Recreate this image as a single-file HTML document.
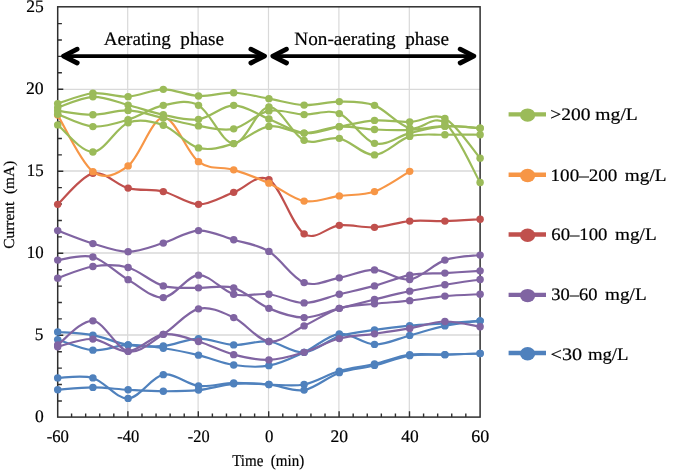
<!DOCTYPE html>
<html><head><meta charset="utf-8"><style>html,body{margin:0;padding:0;background:#fff;}body{width:675px;height:472px;overflow:hidden;}svg{display:block;will-change:transform;}text{font-family:"Liberation Serif",serif;text-rendering:geometricPrecision;fill:#000;stroke:#000;stroke-width:0.2px;}</style></head><body>
<svg width="675" height="472" viewBox="0 0 675 472">
<rect width="675" height="472" fill="#fff"/>
<path d="M127.70,6.8 V417.1 M198.10,6.8 V417.1 M268.50,6.8 V417.1 M338.90,6.8 V417.1 M409.30,6.8 V417.1" stroke="#D9D9D9" stroke-width="1.2" fill="none"/>
<path d="M57.7,335.02 H480.1 M57.7,252.99 H480.1 M57.7,170.96 H480.1 M57.7,89.38 H480.1" stroke="#D9D9D9" stroke-width="1.4" fill="none"/>
<path d="M57.7,400.94 h4.2 M57.7,384.54 h4.2 M57.7,368.13 h4.2 M57.7,351.73 h4.2 M57.7,335.32 h5.6 M57.7,318.91 h4.2 M57.7,302.51 h4.2 M57.7,286.10 h4.2 M57.7,269.70 h4.2 M57.7,253.29 h5.6 M57.7,236.88 h4.2 M57.7,220.48 h4.2 M57.7,204.07 h4.2 M57.7,187.67 h4.2 M57.7,171.26 h5.6 M57.7,154.85 h4.2 M57.7,138.45 h4.2 M57.7,122.04 h4.2 M57.7,105.64 h4.2 M57.7,89.23 h5.6 M57.7,72.82 h4.2 M57.7,56.42 h4.2 M57.7,40.01 h4.2 M57.7,23.61 h4.2 M71.58,417.1 v-3.5 M85.66,417.1 v-3.5 M99.74,417.1 v-3.5 M113.82,417.1 v-3.5 M127.90,417.1 v-5.8 M141.98,417.1 v-3.5 M156.06,417.1 v-3.5 M170.14,417.1 v-3.5 M184.22,417.1 v-3.5 M198.30,417.1 v-5.8 M212.38,417.1 v-3.5 M226.46,417.1 v-3.5 M240.54,417.1 v-3.5 M254.62,417.1 v-3.5 M268.70,417.1 v-5.8 M282.78,417.1 v-3.5 M296.86,417.1 v-3.5 M310.94,417.1 v-3.5 M325.02,417.1 v-3.5 M339.10,417.1 v-5.8 M353.18,417.1 v-3.5 M367.26,417.1 v-3.5 M381.34,417.1 v-3.5 M395.42,417.1 v-3.5 M409.50,417.1 v-5.8 M423.58,417.1 v-3.5 M437.66,417.1 v-3.5 M451.74,417.1 v-3.5 M465.82,417.1 v-3.5" stroke="#2E2E2E" stroke-width="1.4" fill="none"/>
<rect x="57.70" y="6.80" width="422.40" height="410.30" fill="none" stroke="#2E2E2E" stroke-width="1.5"/>
<path d="M57.70,332.00 C63.57,332.52 81.17,332.95 92.90,335.11 C104.63,337.27 116.37,343.16 128.10,344.96 C139.83,346.77 151.57,347.01 163.30,345.94 C175.03,344.88 186.77,338.72 198.50,338.56 C210.23,338.40 221.97,344.47 233.70,344.96 C245.43,345.45 257.17,340.28 268.90,341.51 C280.63,342.74 292.37,353.22 304.10,352.34 C315.83,351.47 327.57,340.01 339.30,336.26 C351.03,332.52 362.77,331.64 374.50,329.86 C386.23,328.09 397.97,326.69 409.70,325.60 C421.43,324.50 433.17,324.09 444.90,323.30 C456.63,322.51 474.23,321.25 480.10,320.84" stroke="#4F81BD" stroke-width="2.20" fill="none" stroke-linejoin="round" stroke-linecap="round"/>
<g fill="#4F81BD"><ellipse cx="57.70" cy="332.00" rx="3.75" ry="3.65"/><ellipse cx="92.90" cy="335.11" rx="3.75" ry="3.65"/><ellipse cx="128.10" cy="344.96" rx="3.75" ry="3.65"/><ellipse cx="163.30" cy="345.94" rx="3.75" ry="3.65"/><ellipse cx="198.50" cy="338.56" rx="3.75" ry="3.65"/><ellipse cx="233.70" cy="344.96" rx="3.75" ry="3.65"/><ellipse cx="268.90" cy="341.51" rx="3.75" ry="3.65"/><ellipse cx="304.10" cy="352.34" rx="3.75" ry="3.65"/><ellipse cx="339.30" cy="336.26" rx="3.75" ry="3.65"/><ellipse cx="374.50" cy="329.86" rx="3.75" ry="3.65"/><ellipse cx="409.70" cy="325.60" rx="3.75" ry="3.65"/><ellipse cx="444.90" cy="323.30" rx="3.75" ry="3.65"/><ellipse cx="480.10" cy="320.84" rx="3.75" ry="3.65"/></g>
<path d="M57.70,339.54 C63.57,341.32 81.17,349.31 92.90,350.21 C104.63,351.11 116.37,345.29 128.10,344.96 C139.83,344.63 151.57,346.55 163.30,348.24 C175.03,349.94 186.77,352.34 198.50,355.13 C210.23,357.92 221.97,363.23 233.70,364.98 C245.43,366.73 257.17,367.74 268.90,365.64 C280.63,363.53 292.37,357.65 304.10,352.34 C315.83,347.04 327.57,335.11 339.30,333.80 C351.03,332.49 362.77,344.19 374.50,344.47 C386.23,344.74 397.97,338.53 409.70,335.44 C421.43,332.35 433.17,328.36 444.90,325.92 C456.63,323.49 474.23,321.69 480.10,320.84" stroke="#4F81BD" stroke-width="2.20" fill="none" stroke-linejoin="round" stroke-linecap="round"/>
<g fill="#4F81BD"><ellipse cx="57.70" cy="339.54" rx="3.75" ry="3.65"/><ellipse cx="92.90" cy="350.21" rx="3.75" ry="3.65"/><ellipse cx="128.10" cy="344.96" rx="3.75" ry="3.65"/><ellipse cx="163.30" cy="348.24" rx="3.75" ry="3.65"/><ellipse cx="198.50" cy="355.13" rx="3.75" ry="3.65"/><ellipse cx="233.70" cy="364.98" rx="3.75" ry="3.65"/><ellipse cx="268.90" cy="365.64" rx="3.75" ry="3.65"/><ellipse cx="304.10" cy="352.34" rx="3.75" ry="3.65"/><ellipse cx="339.30" cy="333.80" rx="3.75" ry="3.65"/><ellipse cx="374.50" cy="344.47" rx="3.75" ry="3.65"/><ellipse cx="409.70" cy="335.44" rx="3.75" ry="3.65"/><ellipse cx="444.90" cy="325.92" rx="3.75" ry="3.65"/><ellipse cx="480.10" cy="320.84" rx="3.75" ry="3.65"/></g>
<path d="M57.70,377.94 C63.57,377.94 81.17,374.53 92.90,377.94 C104.63,381.36 116.37,399.00 128.10,398.46 C139.83,397.91 151.57,376.77 163.30,374.66 C175.03,372.56 186.77,384.45 198.50,385.82 C210.23,387.19 221.97,383.09 233.70,382.87 C245.43,382.65 257.17,384.23 268.90,384.51 C280.63,384.78 292.37,386.75 304.10,384.51 C315.83,382.27 327.57,374.47 339.30,371.05 C351.03,367.63 362.77,366.73 374.50,364.00 C386.23,361.26 397.97,356.20 409.70,354.64 C421.43,353.08 433.17,354.83 444.90,354.64 C456.63,354.45 474.23,353.68 480.10,353.49" stroke="#4F81BD" stroke-width="2.20" fill="none" stroke-linejoin="round" stroke-linecap="round"/>
<g fill="#4F81BD"><ellipse cx="57.70" cy="377.94" rx="3.75" ry="3.65"/><ellipse cx="92.90" cy="377.94" rx="3.75" ry="3.65"/><ellipse cx="128.10" cy="398.46" rx="3.75" ry="3.65"/><ellipse cx="163.30" cy="374.66" rx="3.75" ry="3.65"/><ellipse cx="198.50" cy="385.82" rx="3.75" ry="3.65"/><ellipse cx="233.70" cy="382.87" rx="3.75" ry="3.65"/><ellipse cx="268.90" cy="384.51" rx="3.75" ry="3.65"/><ellipse cx="304.10" cy="384.51" rx="3.75" ry="3.65"/><ellipse cx="339.30" cy="371.05" rx="3.75" ry="3.65"/><ellipse cx="374.50" cy="364.00" rx="3.75" ry="3.65"/><ellipse cx="409.70" cy="354.64" rx="3.75" ry="3.65"/><ellipse cx="444.90" cy="354.64" rx="3.75" ry="3.65"/><ellipse cx="480.10" cy="353.49" rx="3.75" ry="3.65"/></g>
<path d="M57.70,389.76 C63.57,389.38 81.17,387.46 92.90,387.46 C104.63,387.46 116.37,389.13 128.10,389.76 C139.83,390.39 151.57,391.18 163.30,391.24 C175.03,391.29 186.77,391.32 198.50,390.09 C210.23,388.86 221.97,384.78 233.70,383.85 C245.43,382.92 257.17,383.47 268.90,384.51 C280.63,385.55 292.37,392.06 304.10,390.09 C315.83,388.12 327.57,376.80 339.30,372.69 C351.03,368.59 362.77,368.32 374.50,365.47 C386.23,362.63 397.97,357.43 409.70,355.63 C421.43,353.82 433.17,355.00 444.90,354.64 C456.63,354.29 474.23,353.68 480.10,353.49" stroke="#4F81BD" stroke-width="2.20" fill="none" stroke-linejoin="round" stroke-linecap="round"/>
<g fill="#4F81BD"><ellipse cx="57.70" cy="389.76" rx="3.75" ry="3.65"/><ellipse cx="92.90" cy="387.46" rx="3.75" ry="3.65"/><ellipse cx="128.10" cy="389.76" rx="3.75" ry="3.65"/><ellipse cx="163.30" cy="391.24" rx="3.75" ry="3.65"/><ellipse cx="198.50" cy="390.09" rx="3.75" ry="3.65"/><ellipse cx="233.70" cy="383.85" rx="3.75" ry="3.65"/><ellipse cx="268.90" cy="384.51" rx="3.75" ry="3.65"/><ellipse cx="304.10" cy="390.09" rx="3.75" ry="3.65"/><ellipse cx="339.30" cy="372.69" rx="3.75" ry="3.65"/><ellipse cx="374.50" cy="365.47" rx="3.75" ry="3.65"/><ellipse cx="409.70" cy="355.63" rx="3.75" ry="3.65"/><ellipse cx="444.90" cy="354.64" rx="3.75" ry="3.65"/><ellipse cx="480.10" cy="353.49" rx="3.75" ry="3.65"/></g>
<path d="M57.70,230.58 C63.57,232.74 81.17,240.02 92.90,243.55 C104.63,247.07 116.37,251.83 128.10,251.75 C139.83,251.67 151.57,246.58 163.30,243.05 C175.03,239.53 186.77,231.13 198.50,230.58 C210.23,230.04 221.97,236.30 233.70,239.77 C245.43,243.25 257.17,244.28 268.90,251.42 C280.63,258.56 292.37,278.20 304.10,282.60 C315.83,287.01 327.57,279.95 339.30,277.84 C351.03,275.74 362.77,269.69 374.50,269.97 C386.23,270.24 397.97,281.13 409.70,279.48 C421.43,277.84 433.17,264.20 444.90,260.12 C456.63,256.05 474.23,255.88 480.10,255.03" stroke="#8064A2" stroke-width="2.20" fill="none" stroke-linejoin="round" stroke-linecap="round"/>
<g fill="#8064A2"><ellipse cx="57.70" cy="230.58" rx="3.75" ry="3.65"/><ellipse cx="92.90" cy="243.55" rx="3.75" ry="3.65"/><ellipse cx="128.10" cy="251.75" rx="3.75" ry="3.65"/><ellipse cx="163.30" cy="243.05" rx="3.75" ry="3.65"/><ellipse cx="198.50" cy="230.58" rx="3.75" ry="3.65"/><ellipse cx="233.70" cy="239.77" rx="3.75" ry="3.65"/><ellipse cx="268.90" cy="251.42" rx="3.75" ry="3.65"/><ellipse cx="304.10" cy="282.60" rx="3.75" ry="3.65"/><ellipse cx="339.30" cy="277.84" rx="3.75" ry="3.65"/><ellipse cx="374.50" cy="269.97" rx="3.75" ry="3.65"/><ellipse cx="409.70" cy="279.48" rx="3.75" ry="3.65"/><ellipse cx="444.90" cy="260.12" rx="3.75" ry="3.65"/><ellipse cx="480.10" cy="255.03" rx="3.75" ry="3.65"/></g>
<path d="M57.70,260.12 C63.57,259.60 81.17,253.75 92.90,257.00 C104.63,260.26 116.37,272.89 128.10,279.65 C139.83,286.40 151.57,298.27 163.30,297.54 C175.03,296.80 186.77,275.76 198.50,275.22 C210.23,274.67 221.97,291.08 233.70,294.25 C245.43,297.43 257.17,292.80 268.90,294.25 C280.63,295.70 292.37,302.95 304.10,302.95 C315.83,302.95 327.57,297.10 339.30,294.25 C351.03,291.41 362.77,289.08 374.50,285.88 C386.23,282.68 397.97,277.19 409.70,275.05 C421.43,272.92 433.17,273.80 444.90,273.08 C456.63,272.37 474.23,271.17 480.10,270.79" stroke="#8064A2" stroke-width="2.20" fill="none" stroke-linejoin="round" stroke-linecap="round"/>
<g fill="#8064A2"><ellipse cx="57.70" cy="260.12" rx="3.75" ry="3.65"/><ellipse cx="92.90" cy="257.00" rx="3.75" ry="3.65"/><ellipse cx="128.10" cy="279.65" rx="3.75" ry="3.65"/><ellipse cx="163.30" cy="297.54" rx="3.75" ry="3.65"/><ellipse cx="198.50" cy="275.22" rx="3.75" ry="3.65"/><ellipse cx="233.70" cy="294.25" rx="3.75" ry="3.65"/><ellipse cx="268.90" cy="294.25" rx="3.75" ry="3.65"/><ellipse cx="304.10" cy="302.95" rx="3.75" ry="3.65"/><ellipse cx="339.30" cy="294.25" rx="3.75" ry="3.65"/><ellipse cx="374.50" cy="285.88" rx="3.75" ry="3.65"/><ellipse cx="409.70" cy="275.05" rx="3.75" ry="3.65"/><ellipse cx="444.90" cy="273.08" rx="3.75" ry="3.65"/><ellipse cx="480.10" cy="270.79" rx="3.75" ry="3.65"/></g>
<path d="M57.70,278.17 C63.57,276.23 81.17,268.30 92.90,266.52 C104.63,264.74 116.37,264.28 128.10,267.50 C139.83,270.73 151.57,282.49 163.30,285.88 C175.03,289.28 186.77,287.53 198.50,287.85 C210.23,288.18 221.97,284.43 233.70,287.85 C245.43,291.27 257.17,303.42 268.90,308.37 C280.63,313.32 292.37,317.56 304.10,317.56 C315.83,317.56 327.57,311.37 339.30,308.37 C351.03,305.36 362.77,302.38 374.50,299.50 C386.23,296.63 397.97,293.60 409.70,291.14 C421.43,288.67 433.17,286.68 444.90,284.74 C456.63,282.79 474.23,280.36 480.10,279.48" stroke="#8064A2" stroke-width="2.20" fill="none" stroke-linejoin="round" stroke-linecap="round"/>
<g fill="#8064A2"><ellipse cx="57.70" cy="278.17" rx="3.75" ry="3.65"/><ellipse cx="92.90" cy="266.52" rx="3.75" ry="3.65"/><ellipse cx="128.10" cy="267.50" rx="3.75" ry="3.65"/><ellipse cx="163.30" cy="285.88" rx="3.75" ry="3.65"/><ellipse cx="198.50" cy="287.85" rx="3.75" ry="3.65"/><ellipse cx="233.70" cy="287.85" rx="3.75" ry="3.65"/><ellipse cx="268.90" cy="308.37" rx="3.75" ry="3.65"/><ellipse cx="304.10" cy="317.56" rx="3.75" ry="3.65"/><ellipse cx="339.30" cy="308.37" rx="3.75" ry="3.65"/><ellipse cx="374.50" cy="299.50" rx="3.75" ry="3.65"/><ellipse cx="409.70" cy="291.14" rx="3.75" ry="3.65"/><ellipse cx="444.90" cy="284.74" rx="3.75" ry="3.65"/><ellipse cx="480.10" cy="279.48" rx="3.75" ry="3.65"/></g>
<path d="M57.70,344.96 C63.57,340.94 81.17,319.77 92.90,320.84 C104.63,321.90 116.37,349.12 128.10,351.36 C139.83,353.60 151.57,341.38 163.30,334.29 C175.03,327.21 186.77,311.65 198.50,308.86 C210.23,306.07 221.97,312.11 233.70,317.56 C245.43,323.00 257.17,340.12 268.90,341.51 C280.63,342.91 292.37,331.45 304.10,325.92 C315.83,320.40 327.57,312.06 339.30,308.37 C351.03,304.67 362.77,305.06 374.50,303.77 C386.23,302.49 397.97,301.94 409.70,300.65 C421.43,299.37 433.17,297.12 444.90,296.06 C456.63,294.99 474.23,294.55 480.10,294.25" stroke="#8064A2" stroke-width="2.20" fill="none" stroke-linejoin="round" stroke-linecap="round"/>
<g fill="#8064A2"><ellipse cx="57.70" cy="344.96" rx="3.75" ry="3.65"/><ellipse cx="92.90" cy="320.84" rx="3.75" ry="3.65"/><ellipse cx="128.10" cy="351.36" rx="3.75" ry="3.65"/><ellipse cx="163.30" cy="334.29" rx="3.75" ry="3.65"/><ellipse cx="198.50" cy="308.86" rx="3.75" ry="3.65"/><ellipse cx="233.70" cy="317.56" rx="3.75" ry="3.65"/><ellipse cx="268.90" cy="341.51" rx="3.75" ry="3.65"/><ellipse cx="304.10" cy="325.92" rx="3.75" ry="3.65"/><ellipse cx="339.30" cy="308.37" rx="3.75" ry="3.65"/><ellipse cx="374.50" cy="303.77" rx="3.75" ry="3.65"/><ellipse cx="409.70" cy="300.65" rx="3.75" ry="3.65"/><ellipse cx="444.90" cy="296.06" rx="3.75" ry="3.65"/><ellipse cx="480.10" cy="294.25" rx="3.75" ry="3.65"/></g>
<path d="M57.70,346.77 C63.57,345.48 81.17,338.29 92.90,339.05 C104.63,339.82 116.37,352.15 128.10,351.36 C139.83,350.57 151.57,335.93 163.30,334.29 C175.03,332.65 186.77,338.12 198.50,341.51 C210.23,344.91 221.97,351.58 233.70,354.64 C245.43,357.71 257.17,360.28 268.90,359.89 C280.63,359.51 292.37,355.90 304.10,352.34 C315.83,348.79 327.57,341.65 339.30,338.56 C351.03,335.47 362.77,335.50 374.50,333.80 C386.23,332.11 397.97,330.44 409.70,328.39 C421.43,326.33 433.17,321.77 444.90,321.49 C456.63,321.22 474.23,325.87 480.10,326.75" stroke="#8064A2" stroke-width="2.20" fill="none" stroke-linejoin="round" stroke-linecap="round"/>
<g fill="#8064A2"><ellipse cx="57.70" cy="346.77" rx="3.75" ry="3.65"/><ellipse cx="92.90" cy="339.05" rx="3.75" ry="3.65"/><ellipse cx="128.10" cy="351.36" rx="3.75" ry="3.65"/><ellipse cx="163.30" cy="334.29" rx="3.75" ry="3.65"/><ellipse cx="198.50" cy="341.51" rx="3.75" ry="3.65"/><ellipse cx="233.70" cy="354.64" rx="3.75" ry="3.65"/><ellipse cx="268.90" cy="359.89" rx="3.75" ry="3.65"/><ellipse cx="304.10" cy="352.34" rx="3.75" ry="3.65"/><ellipse cx="339.30" cy="338.56" rx="3.75" ry="3.65"/><ellipse cx="374.50" cy="333.80" rx="3.75" ry="3.65"/><ellipse cx="409.70" cy="328.39" rx="3.75" ry="3.65"/><ellipse cx="444.90" cy="321.49" rx="3.75" ry="3.65"/><ellipse cx="480.10" cy="326.75" rx="3.75" ry="3.65"/></g>
<path d="M57.70,204.33 C63.57,199.16 81.17,176.02 92.90,173.31 C104.63,170.60 116.37,185.04 128.10,188.08 C139.83,191.12 151.57,188.82 163.30,191.53 C175.03,194.23 186.77,204.19 198.50,204.33 C210.23,204.46 221.97,196.48 233.70,192.35 C245.43,188.22 257.17,172.63 268.90,179.55 C280.63,186.47 292.37,226.23 304.10,233.86 C315.83,241.50 327.57,226.43 339.30,225.33 C351.03,224.24 362.77,228.01 374.50,227.30 C386.23,226.59 397.97,222.10 409.70,221.06 C421.43,220.03 433.17,221.37 444.90,221.06 C456.63,220.76 474.23,219.56 480.10,219.26" stroke="#C0504D" stroke-width="2.20" fill="none" stroke-linejoin="round" stroke-linecap="round"/>
<g fill="#C0504D"><ellipse cx="57.70" cy="204.33" rx="3.75" ry="3.65"/><ellipse cx="92.90" cy="173.31" rx="3.75" ry="3.65"/><ellipse cx="128.10" cy="188.08" rx="3.75" ry="3.65"/><ellipse cx="163.30" cy="191.53" rx="3.75" ry="3.65"/><ellipse cx="198.50" cy="204.33" rx="3.75" ry="3.65"/><ellipse cx="233.70" cy="192.35" rx="3.75" ry="3.65"/><ellipse cx="268.90" cy="179.55" rx="3.75" ry="3.65"/><ellipse cx="304.10" cy="233.86" rx="3.75" ry="3.65"/><ellipse cx="339.30" cy="225.33" rx="3.75" ry="3.65"/><ellipse cx="374.50" cy="227.30" rx="3.75" ry="3.65"/><ellipse cx="409.70" cy="221.06" rx="3.75" ry="3.65"/><ellipse cx="444.90" cy="221.06" rx="3.75" ry="3.65"/><ellipse cx="480.10" cy="219.26" rx="3.75" ry="3.65"/></g>
<path d="M57.70,115.06 C63.57,124.49 81.17,163.19 92.90,171.67 C104.63,180.15 116.37,174.95 128.10,165.93 C139.83,156.90 151.57,118.23 163.30,117.52 C175.03,116.81 186.77,152.94 198.50,161.66 C210.23,170.39 221.97,166.28 233.70,169.87 C245.43,173.45 257.17,177.96 268.90,183.16 C280.63,188.35 292.37,198.91 304.10,201.04 C315.83,203.18 327.57,197.54 339.30,195.96 C351.03,194.37 362.77,195.63 374.50,191.53 C386.23,187.42 403.83,174.71 409.70,171.34" stroke="#F79646" stroke-width="2.20" fill="none" stroke-linejoin="round" stroke-linecap="round"/>
<g fill="#F79646"><ellipse cx="57.70" cy="115.06" rx="3.75" ry="3.65"/><ellipse cx="92.90" cy="171.67" rx="3.75" ry="3.65"/><ellipse cx="128.10" cy="165.93" rx="3.75" ry="3.65"/><ellipse cx="163.30" cy="117.52" rx="3.75" ry="3.65"/><ellipse cx="198.50" cy="161.66" rx="3.75" ry="3.65"/><ellipse cx="233.70" cy="169.87" rx="3.75" ry="3.65"/><ellipse cx="268.90" cy="183.16" rx="3.75" ry="3.65"/><ellipse cx="304.10" cy="201.04" rx="3.75" ry="3.65"/><ellipse cx="339.30" cy="195.96" rx="3.75" ry="3.65"/><ellipse cx="374.50" cy="191.53" rx="3.75" ry="3.65"/><ellipse cx="409.70" cy="171.34" rx="3.75" ry="3.65"/></g>
<path d="M57.70,103.57 C63.57,101.85 81.17,94.38 92.90,93.23 C104.63,92.08 116.37,97.33 128.10,96.68 C139.83,96.02 151.57,89.40 163.30,89.29 C175.03,89.18 186.77,95.45 198.50,96.02 C210.23,96.59 221.97,92.30 233.70,92.74 C245.43,93.18 257.17,96.59 268.90,98.65 C280.63,100.70 292.37,104.55 304.10,105.05 C315.83,105.54 327.57,101.55 339.30,101.60 C351.03,101.65 362.77,100.94 374.50,105.37 C386.23,109.80 397.97,125.26 409.70,128.18 C421.43,131.11 433.17,113.88 444.90,122.93 C456.63,131.99 474.23,172.57 480.10,182.50" stroke="#9BBB59" stroke-width="2.20" fill="none" stroke-linejoin="round" stroke-linecap="round"/>
<g fill="#9BBB59"><ellipse cx="57.70" cy="103.57" rx="3.75" ry="3.65"/><ellipse cx="92.90" cy="93.23" rx="3.75" ry="3.65"/><ellipse cx="128.10" cy="96.68" rx="3.75" ry="3.65"/><ellipse cx="163.30" cy="89.29" rx="3.75" ry="3.65"/><ellipse cx="198.50" cy="96.02" rx="3.75" ry="3.65"/><ellipse cx="233.70" cy="92.74" rx="3.75" ry="3.65"/><ellipse cx="268.90" cy="98.65" rx="3.75" ry="3.65"/><ellipse cx="304.10" cy="105.05" rx="3.75" ry="3.65"/><ellipse cx="339.30" cy="101.60" rx="3.75" ry="3.65"/><ellipse cx="374.50" cy="105.37" rx="3.75" ry="3.65"/><ellipse cx="409.70" cy="128.18" rx="3.75" ry="3.65"/><ellipse cx="444.90" cy="122.93" rx="3.75" ry="3.65"/><ellipse cx="480.10" cy="182.50" rx="3.75" ry="3.65"/></g>
<path d="M57.70,107.67 C63.57,105.87 81.17,97.28 92.90,96.84 C104.63,96.40 116.37,102.06 128.10,105.05 C139.83,108.03 151.57,112.35 163.30,114.73 C175.03,117.11 186.77,120.88 198.50,119.32 C210.23,117.76 221.97,105.43 233.70,105.37 C245.43,105.32 257.17,114.37 268.90,118.99 C280.63,123.62 292.37,131.82 304.10,133.11 C315.83,134.39 327.57,128.81 339.30,126.71 C351.03,124.60 362.77,121.26 374.50,120.47 C386.23,119.68 397.97,122.28 409.70,121.95 C421.43,121.62 433.17,112.46 444.90,118.50 C456.63,124.55 474.23,151.60 480.10,158.21" stroke="#9BBB59" stroke-width="2.20" fill="none" stroke-linejoin="round" stroke-linecap="round"/>
<g fill="#9BBB59"><ellipse cx="57.70" cy="107.67" rx="3.75" ry="3.65"/><ellipse cx="92.90" cy="96.84" rx="3.75" ry="3.65"/><ellipse cx="128.10" cy="105.05" rx="3.75" ry="3.65"/><ellipse cx="163.30" cy="114.73" rx="3.75" ry="3.65"/><ellipse cx="198.50" cy="119.32" rx="3.75" ry="3.65"/><ellipse cx="233.70" cy="105.37" rx="3.75" ry="3.65"/><ellipse cx="268.90" cy="118.99" rx="3.75" ry="3.65"/><ellipse cx="304.10" cy="133.11" rx="3.75" ry="3.65"/><ellipse cx="339.30" cy="126.71" rx="3.75" ry="3.65"/><ellipse cx="374.50" cy="120.47" rx="3.75" ry="3.65"/><ellipse cx="409.70" cy="121.95" rx="3.75" ry="3.65"/><ellipse cx="444.90" cy="118.50" rx="3.75" ry="3.65"/><ellipse cx="480.10" cy="158.21" rx="3.75" ry="3.65"/></g>
<path d="M57.70,110.95 C63.57,111.58 81.17,114.81 92.90,114.73 C104.63,114.65 116.37,109.91 128.10,110.46 C139.83,111.01 151.57,115.44 163.30,118.01 C175.03,120.58 186.77,124.08 198.50,125.89 C210.23,127.69 221.97,131.33 233.70,128.84 C245.43,126.35 257.17,113.33 268.90,110.95 C280.63,108.57 292.37,114.13 304.10,114.56 C315.83,115.00 327.57,108.79 339.30,113.58 C351.03,118.37 362.77,140.03 374.50,143.28 C386.23,146.54 397.97,135.95 409.70,133.11 C421.43,130.26 433.17,127.04 444.90,126.21 C456.63,125.39 474.23,127.86 480.10,128.18" stroke="#9BBB59" stroke-width="2.20" fill="none" stroke-linejoin="round" stroke-linecap="round"/>
<g fill="#9BBB59"><ellipse cx="57.70" cy="110.95" rx="3.75" ry="3.65"/><ellipse cx="92.90" cy="114.73" rx="3.75" ry="3.65"/><ellipse cx="128.10" cy="110.46" rx="3.75" ry="3.65"/><ellipse cx="163.30" cy="118.01" rx="3.75" ry="3.65"/><ellipse cx="198.50" cy="125.89" rx="3.75" ry="3.65"/><ellipse cx="233.70" cy="128.84" rx="3.75" ry="3.65"/><ellipse cx="268.90" cy="110.95" rx="3.75" ry="3.65"/><ellipse cx="304.10" cy="114.56" rx="3.75" ry="3.65"/><ellipse cx="339.30" cy="113.58" rx="3.75" ry="3.65"/><ellipse cx="374.50" cy="143.28" rx="3.75" ry="3.65"/><ellipse cx="409.70" cy="133.11" rx="3.75" ry="3.65"/><ellipse cx="444.90" cy="126.21" rx="3.75" ry="3.65"/><ellipse cx="480.10" cy="128.18" rx="3.75" ry="3.65"/></g>
<path d="M57.70,114.24 C63.57,116.29 81.17,125.64 92.90,126.54 C104.63,127.45 116.37,123.18 128.10,119.65 C139.83,116.12 151.57,107.75 163.30,105.37 C175.03,102.99 186.77,99.00 198.50,105.37 C210.23,111.75 221.97,143.34 233.70,143.61 C245.43,143.88 257.17,107.56 268.90,107.02 C280.63,106.47 292.37,135.10 304.10,140.33 C315.83,145.55 327.57,135.92 339.30,138.36 C351.03,140.79 362.77,155.26 374.50,154.93 C386.23,154.60 397.97,139.75 409.70,136.39 C421.43,133.02 433.17,135.02 444.90,134.75 C456.63,134.47 474.23,134.75 480.10,134.75" stroke="#9BBB59" stroke-width="2.20" fill="none" stroke-linejoin="round" stroke-linecap="round"/>
<g fill="#9BBB59"><ellipse cx="57.70" cy="114.24" rx="3.75" ry="3.65"/><ellipse cx="92.90" cy="126.54" rx="3.75" ry="3.65"/><ellipse cx="128.10" cy="119.65" rx="3.75" ry="3.65"/><ellipse cx="163.30" cy="105.37" rx="3.75" ry="3.65"/><ellipse cx="198.50" cy="105.37" rx="3.75" ry="3.65"/><ellipse cx="233.70" cy="143.61" rx="3.75" ry="3.65"/><ellipse cx="268.90" cy="107.02" rx="3.75" ry="3.65"/><ellipse cx="304.10" cy="140.33" rx="3.75" ry="3.65"/><ellipse cx="339.30" cy="138.36" rx="3.75" ry="3.65"/><ellipse cx="374.50" cy="154.93" rx="3.75" ry="3.65"/><ellipse cx="409.70" cy="136.39" rx="3.75" ry="3.65"/><ellipse cx="444.90" cy="134.75" rx="3.75" ry="3.65"/><ellipse cx="480.10" cy="134.75" rx="3.75" ry="3.65"/></g>
<path d="M57.70,124.90 C63.57,129.41 81.17,152.33 92.90,151.98 C104.63,151.62 116.37,127.23 128.10,122.77 C139.83,118.31 151.57,121.05 163.30,125.23 C175.03,129.41 186.77,144.81 198.50,147.88 C210.23,150.94 221.97,147.19 233.70,143.61 C245.43,140.03 257.17,128.13 268.90,126.38 C280.63,124.63 292.37,133.05 304.10,133.11 C315.83,133.16 327.57,127.31 339.30,126.71 C351.03,126.11 362.77,128.98 374.50,129.50 C386.23,130.02 397.97,130.37 409.70,129.82 C421.43,129.28 433.17,126.49 444.90,126.21 C456.63,125.94 474.23,127.86 480.10,128.18" stroke="#9BBB59" stroke-width="2.20" fill="none" stroke-linejoin="round" stroke-linecap="round"/>
<g fill="#9BBB59"><ellipse cx="57.70" cy="124.90" rx="3.75" ry="3.65"/><ellipse cx="92.90" cy="151.98" rx="3.75" ry="3.65"/><ellipse cx="128.10" cy="122.77" rx="3.75" ry="3.65"/><ellipse cx="163.30" cy="125.23" rx="3.75" ry="3.65"/><ellipse cx="198.50" cy="147.88" rx="3.75" ry="3.65"/><ellipse cx="233.70" cy="143.61" rx="3.75" ry="3.65"/><ellipse cx="268.90" cy="126.38" rx="3.75" ry="3.65"/><ellipse cx="304.10" cy="133.11" rx="3.75" ry="3.65"/><ellipse cx="339.30" cy="126.71" rx="3.75" ry="3.65"/><ellipse cx="374.50" cy="129.50" rx="3.75" ry="3.65"/><ellipse cx="409.70" cy="129.82" rx="3.75" ry="3.65"/><ellipse cx="444.90" cy="126.21" rx="3.75" ry="3.65"/><ellipse cx="480.10" cy="128.18" rx="3.75" ry="3.65"/></g>
<text id="y0" x="35.02" y="421.85" font-size="17.6" textLength="8.76" lengthAdjust="spacingAndGlyphs" xml:space="preserve">0</text>
<text id="y5" x="34.87" y="339.82" font-size="17.6" textLength="8.66" lengthAdjust="spacingAndGlyphs" xml:space="preserve">5</text>
<text id="y10" x="26.73" y="257.79" font-size="17.6" textLength="16.83" lengthAdjust="spacingAndGlyphs" xml:space="preserve">10</text>
<text id="y15" x="26.73" y="175.76" font-size="17.6" textLength="16.88" lengthAdjust="spacingAndGlyphs" xml:space="preserve">15</text>
<text id="y20" x="25.98" y="93.73" font-size="17.6" textLength="17.71" lengthAdjust="spacingAndGlyphs" xml:space="preserve">20</text>
<text id="y25" x="26.19" y="11.70" font-size="17.6" textLength="17.52" lengthAdjust="spacingAndGlyphs" xml:space="preserve">25</text>
<text id="x-60" x="46.72" y="441.80" font-size="17.6" textLength="22.24" lengthAdjust="spacingAndGlyphs" xml:space="preserve">-60</text>
<text id="x-40" x="117.36" y="441.80" font-size="17.6" textLength="21.99" lengthAdjust="spacingAndGlyphs" xml:space="preserve">-40</text>
<text id="x-20" x="187.79" y="441.80" font-size="17.6" textLength="21.77" lengthAdjust="spacingAndGlyphs" xml:space="preserve">-20</text>
<text id="x0" x="264.91" y="441.80" font-size="17.6" textLength="8.39" lengthAdjust="spacingAndGlyphs" xml:space="preserve">0</text>
<text id="x20" x="330.59" y="441.80" font-size="17.6" textLength="17.54" lengthAdjust="spacingAndGlyphs" xml:space="preserve">20</text>
<text id="x40" x="401.31" y="441.80" font-size="17.6" textLength="17.41" lengthAdjust="spacingAndGlyphs" xml:space="preserve">40</text>
<text id="x60" x="471.15" y="441.80" font-size="17.6" textLength="18.00" lengthAdjust="spacingAndGlyphs" xml:space="preserve">60</text>
<text id="time" x="232.18" y="466.20" font-size="16.6" textLength="72.06" lengthAdjust="spacingAndGlyphs" xml:space="preserve">Time  (min)</text>
<text id="aer" x="103.77" y="45.10" font-size="18.9" textLength="120.22" lengthAdjust="spacingAndGlyphs" xml:space="preserve">Aerating  phase</text>
<text id="naer" x="294.31" y="45.20" font-size="18.9" textLength="154.70" lengthAdjust="spacingAndGlyphs" xml:space="preserve">Non-aerating  phase</text>
<text id="L1a" x="550.19" y="120.20" font-size="17.5" textLength="40.18" lengthAdjust="spacingAndGlyphs" xml:space="preserve">&gt;200</text>
<text id="L1b" x="595.38" y="120.20" font-size="17.5" textLength="42.43" lengthAdjust="spacingAndGlyphs" xml:space="preserve">mg/L</text>
<text id="L2a" x="550.57" y="180.50" font-size="17.5" textLength="66.74" lengthAdjust="spacingAndGlyphs" xml:space="preserve">100–200</text>
<text id="L2b" x="624.88" y="180.50" font-size="17.5" textLength="41.65" lengthAdjust="spacingAndGlyphs" xml:space="preserve">mg/L</text>
<text id="L3a" x="551.32" y="240.40" font-size="17.5" textLength="56.11" lengthAdjust="spacingAndGlyphs" xml:space="preserve">60–100</text>
<text id="L3b" x="615.10" y="240.40" font-size="17.5" textLength="41.55" lengthAdjust="spacingAndGlyphs" xml:space="preserve">mg/L</text>
<text id="L4a" x="551.26" y="300.30" font-size="17.5" textLength="46.14" lengthAdjust="spacingAndGlyphs" xml:space="preserve">30–60</text>
<text id="L4b" x="605.13" y="300.30" font-size="17.5" textLength="41.50" lengthAdjust="spacingAndGlyphs" xml:space="preserve">mg/L</text>
<text id="L5a" x="550.60" y="359.80" font-size="17.5" textLength="31.43" lengthAdjust="spacingAndGlyphs" xml:space="preserve">&lt;30</text>
<text id="L5b" x="587.90" y="359.80" font-size="17.5" textLength="40.61" lengthAdjust="spacingAndGlyphs" xml:space="preserve">mg/L</text>
<text id="cur" transform="translate(14.4,0) rotate(-90)" x="-248.68" y="0" font-size="15.3" textLength="87.83" lengthAdjust="spacingAndGlyphs" xml:space="preserve">Current  (mA)</text>
<g stroke="#000" fill="none" stroke-linecap="round" stroke-linejoin="round"><path d="M65.6,56.1 H262.5" stroke-width="3.8"/><path d="M77.2,49.2 L63.6,56.1 L77.2,63.0" stroke-width="4.8"/><path d="M250.9,49.2 L264.5,56.1 L250.9,63.0" stroke-width="4.8"/></g>
<g stroke="#000" fill="none" stroke-linecap="round" stroke-linejoin="round"><path d="M274.9,56.1 H471.8" stroke-width="3.8"/><path d="M286.5,49.2 L272.9,56.1 L286.5,63.0" stroke-width="4.8"/><path d="M460.2,49.2 L473.8,56.1 L460.2,63.0" stroke-width="4.8"/></g>
<path d="M508.6,114.4 H546.0" stroke="#9BBB59" stroke-width="4.4"/>
<ellipse cx="527.6" cy="115.1" rx="7.6" ry="6.7" fill="#9BBB59"/>
<path d="M508.6,174.8 H546.0" stroke="#F79646" stroke-width="4.4"/>
<ellipse cx="527.6" cy="175.5" rx="7.6" ry="6.7" fill="#F79646"/>
<path d="M508.6,234.5 H546.0" stroke="#C0504D" stroke-width="4.4"/>
<ellipse cx="527.6" cy="235.2" rx="7.6" ry="6.7" fill="#C0504D"/>
<path d="M508.6,294.9 H546.0" stroke="#8064A2" stroke-width="4.4"/>
<ellipse cx="527.6" cy="295.6" rx="7.6" ry="6.7" fill="#8064A2"/>
<path d="M508.6,353.0 H546.0" stroke="#4F81BD" stroke-width="4.4"/>
<ellipse cx="527.6" cy="353.7" rx="7.6" ry="6.7" fill="#4F81BD"/>
</svg></body></html>
